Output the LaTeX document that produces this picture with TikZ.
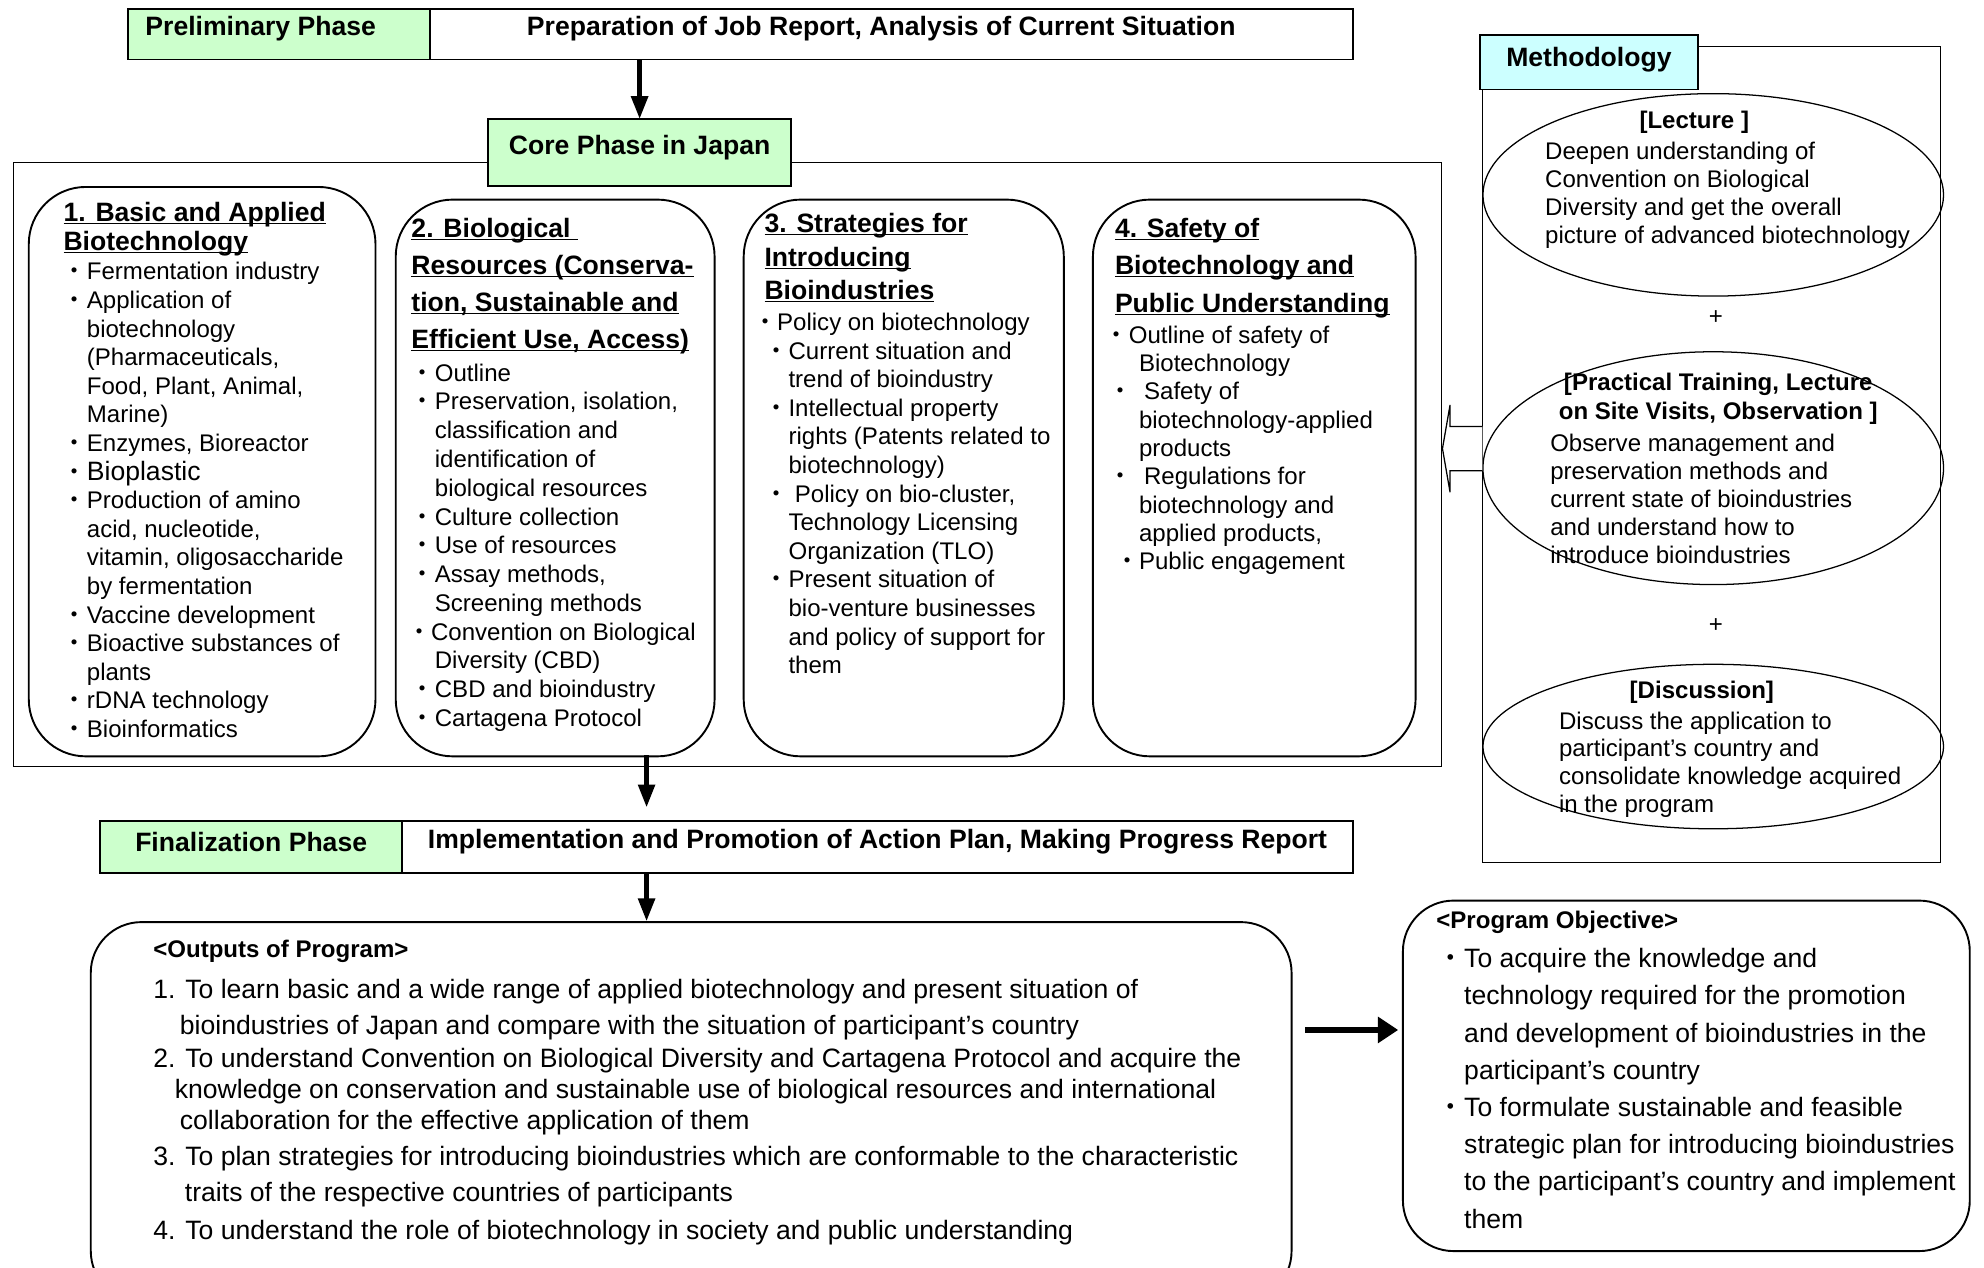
\documentclass[tikz,border=0pt]{standalone}
\usepackage{fontspec}
\setmainfont{Liberation Sans}
\newfontfamily\cjk{Noto Sans CJK JP}
\usetikzlibrary{shapes.geometric, arrows.meta, positioning}
\definecolor{phasegreen}{RGB}{204,255,204}
\definecolor{methcyan}{RGB}{204,255,255}
\tikzstyle{phaselbl} = [rectangle, draw=black, line width=1.5pt, fill=phasegreen, minimum height=40pt, inner sep=0pt, outer sep=0pt, font=\fontsize{21}{23}\selectfont\bfseries]
\tikzstyle{phasetxt} = [rectangle, draw=black, line width=1.5pt, fill=white, minimum height=40pt, inner sep=0pt, outer sep=0pt, font=\fontsize{21}{23}\selectfont\bfseries]
\tikzstyle{methlbl} = [rectangle, draw=black, line width=1.5pt, fill=methcyan, inner sep=0pt, font=\fontsize{21}{23}\selectfont\bfseries]
\tikzstyle{frame} = [rectangle, draw=black, line width=1pt, anchor=north west, inner sep=0pt]
\tikzstyle{topic} = [rectangle, draw=black, line width=1.5pt, rounded corners=45pt, anchor=north west, inner sep=0pt]
\tikzstyle{method} = [ellipse, draw=black, line width=1pt, inner sep=0pt, minimum width=364pt]
\tikzstyle{heading} = [anchor=north west, inner sep=0pt, align=left]
\tikzstyle{body} = [anchor=north west, inner sep=0pt, align=left]
\tikzstyle{arrow} = [line width=3.5pt, -{Triangle[length=18pt,width=13pt]}]
\tikzstyle{bigarrow} = [line width=5pt, -{Triangle[length=16pt,width=20pt]}]
\newcommand{\bul}{\makebox[1em][c]{\cjk ・}}
\newcommand{\contind}{\hspace*{1em}}
\newcommand{\ulhead}[1]{\underline{\raisebox{0pt}[\height][0pt]{#1}}}
\newcommand{\lifted}[1]{\raisebox{4pt}[\height][\depth]{#1}}

\begin{document}
\begin{tikzpicture}[x=1pt, y=-1pt]
        \useasboundingbox (0,0) rectangle (1568,1002);
        \clip (0,0) rectangle (1568,1002);

        % preliminary phase
        \node[phaselbl, minimum width=239pt, anchor=north west] (prelim) at (101,7) {\hspace*{-29pt}\lifted{Preliminary Phase}};
        \node[phasetxt, minimum width=729pt, right=0pt of prelim] (prep) {\hspace*{-16pt}\lifted{Preparation of Job Report, Analysis of Current Situation}};

        % core phase with its four topics
        \node[frame, minimum width=1129pt, minimum height=477pt] (core) at (10,128) {};
        \node[phaselbl, minimum width=239pt, minimum height=53pt, anchor=north west] (corelbl) at (386,94) {\lifted{Core Phase in Japan}};
        \draw[arrow] (corelbl.north |- prelim.south) -- (corelbl.north);

        \node[topic, minimum width=274pt, minimum height=450pt] (t1) at (22,147) {};
        \node[topic, minimum width=252pt, minimum height=440pt] (t2) at (312,157) {};
        \node[topic, minimum width=253pt, minimum height=440pt] (t3) at (587,157) {};
        \node[topic, minimum width=255pt, minimum height=440pt] (t4) at (863,157) {};

        \node[heading, font=\fontsize{21}{23}\selectfont\bfseries] (h1) at (50,159.4) {\ulhead{1. Basic and Applied}\\\ulhead{Biotechnology}};
        \node[body, font=\fontsize{19}{22.6}\selectfont] (b1) at (49.5,207.2) {\bul Fermentation industry\\\bul Application of\\\contind biotechnology\\\contind (Pharmaceuticals,\\\contind Food, Plant, Animal,\\\contind Marine)\\\bul Enzymes, Bioreactor\\\bul {\fontsize{21}{23}\selectfont Bioplastic}\\\bul Production of amino\\\contind acid, nucleotide,\\\contind vitamin, oligosaccharide\\\contind by fermentation\\\bul Vaccine development\\\bul Bioactive substances of\\\contind plants\\\bul rDNA technology\\\bul Bioinformatics};

        \node[heading, font=\fontsize{21}{29.3}\selectfont\bfseries] (h2) at (325,172.4) {\ulhead{2. Biological\ }\\\ulhead{Resources (Conserva-}\\\ulhead{tion, Sustainable and}\\\ulhead{Efficient Use, Access)}};
        \node[body, font=\fontsize{19}{22.75}\selectfont] (b2) at (324.5,287.2) {\bul Outline\\\bul Preservation, isolation,\\\contind classification and\\\contind identification of\\\contind biological resources\\\bul Culture collection\\\bul Use of resources\\\bul Assay methods,\\\contind Screening methods\\\hspace*{-3pt}\bul Convention on Biological\\\contind Diversity (CBD)\\\bul CBD and bioindustry\\\bul Cartagena Protocol};

        \node[heading, font=\fontsize{21}{26.5}\selectfont\bfseries] (h3) at (604,168.4) {\ulhead{3. Strategies for}\\\ulhead{Introducing}\\\ulhead{Bioindustries}};
        \node[body, font=\fontsize{19}{22.6}\selectfont] (b3) at (604,247.2) {\hspace*{-9pt}\bul Policy on biotechnology\\\bul Current situation and\\\contind trend of bioindustry\\\bul Intellectual property\\\contind rights (Patents related to\\\contind biotechnology)\\\bul\hspace*{5pt}Policy on bio-cluster,\\\contind Technology Licensing\\\contind Organization (TLO)\\\bul Present situation of\\\contind bio-venture businesses\\\contind and policy of support for\\\contind them};

        \node[heading, font=\fontsize{21}{29.5}\selectfont\bfseries] (h4) at (881,172.4) {\ulhead{4. Safety of}\\\ulhead{Biotechnology and}\\\ulhead{Public Understanding}};
        \node[body, font=\fontsize{19}{22.4}\selectfont] (b4) at (881,257.2) {\hspace*{-8pt}\bul Outline of safety of\\\contind Biotechnology\\\hspace*{-5pt}\bul\hspace*{9pt}Safety of\\\contind biotechnology-applied\\\contind products\\\hspace*{-5pt}\bul\hspace*{9pt}Regulations for\\\contind biotechnology and\\\contind applied products,\\\bul Public engagement};

        % methodology
        \node[frame, minimum width=362pt, minimum height=645pt] (meth) at (1171,36) {};
        \node[methlbl, minimum width=172pt, minimum height=43pt, anchor=north west] (methlbl) at (1169,27) {\raisebox{2pt}[\height][\depth]{Methodology}};
        \node[method, minimum height=160pt] (lect) at (1354,154) {};
        \node[method, minimum height=184pt] (prac) at (1354,370) {};
        \node[method, minimum height=130pt] (disc) at (1354,590) {};
        \node[font=\fontsize{19}{22}\selectfont] (plus1) at (1356,251) {+};
        \node[font=\fontsize{19}{22}\selectfont] (plus2) at (1356,494) {+};

        \node[inner sep=0pt, font=\fontsize{19}{22}\selectfont\bfseries] (lecttitle) at (1339,97) {[Lecture ]};
        \node[body, font=\fontsize{19}{22}\selectfont] (lecttext) at (1221,112.2) {Deepen understanding of\\Convention on Biological\\Diversity and get the overall\\picture of advanced biotechnology};
        \node[inner sep=0pt, align=center, font=\fontsize{19}{23}\selectfont\bfseries] (practitle) at (1358,315.5) {[Practical Training, Lecture\\on Site Visits, Observation ]};
        \node[body, font=\fontsize{19}{22}\selectfont] (practext) at (1225,343.2) {Observe management and\\preservation methods and\\current state of bioindustries\\and understand how to\\introduce bioindustries};
        \node[inner sep=0pt, font=\fontsize{19}{22}\selectfont\bfseries] (disctitle) at (1345,547) {[Discussion]};
        \node[body, font=\fontsize{19}{22}\selectfont] (disctext) at (1232,562.2) {Discuss the application to\\participant’s country and\\consolidate knowledge acquired\\in the program};

        % hollow arrow back into the core phase
        \draw[line width=1pt, fill=white] (prac.west |- 0,337) -- (1146,337) -- (1146,320) -- (core.east |- 0,354.5) -- (1146,389) -- (1146,372) -- (prac.west |- 0,372);

        % finalization phase
        \coordinate (cdown) at (511,597);
        \node[phaselbl, minimum width=239pt, minimum height=41pt, anchor=north west] (finlbl) at (79,649) {\lifted{Finalization Phase}};
        \node[phasetxt, minimum width=751pt, minimum height=41pt, right=0pt of finlbl] (impl) {\lifted{Implementation and Promotion of Action Plan, Making Progress Report}};
        \draw[arrow, shorten >=11pt] (cdown) -- (cdown |- finlbl.north);

        % outputs and objective
        \node[topic, rounded corners=40pt, minimum width=949pt, minimum height=300pt] (outputs) at (71,728) {};
        \draw[arrow] (cdown |- impl.south) -- (cdown |- outputs.north);
        \node[anchor=west, inner sep=0pt, font=\fontsize{19}{22}\selectfont\bfseries] (outtitle) at (121,752) {<Outputs of Program>};
        \node[body, font=\fontsize{21}{24}\selectfont] (outtext) at (121,773.4) {1. To learn basic and a wide range of applied biotechnology and present situation of\\[5pt]\hspace*{21pt}bioindustries of Japan and compare with the situation of participant’s country\\[2pt]2. To understand Convention on Biological Diversity and Cartagena Protocol and acquire the\\\hspace*{17pt}knowledge on conservation and sustainable use of biological resources and international\\[1pt]\hspace*{21pt}collaboration for the effective application of them\\[4pt]3. To plan strategies for introducing bioindustries which are conformable to the characteristic\\[5pt]\hspace*{25pt}traits of the respective countries of participants\\[6pt]4. To understand the role of biotechnology in society and public understanding};

        \node[topic, rounded corners=40pt, minimum width=448pt, minimum height=277pt] (objective) at (1108,711) {};
        \draw[bigarrow, shorten <=10pt, shorten >=3pt] (outputs.east |- 0,814) -- (objective.west |- 0,814);
        \node[anchor=west, inner sep=0pt, font=\fontsize{19}{22}\selectfont\bfseries] (objtitle) at (1135,729) {<Program Objective>};
        \node[body, font=\fontsize{21}{29.4}\selectfont] (objtext) at (1136,749.4) {\bul To acquire the knowledge and\\\contind technology required for the promotion\\\contind and development of bioindustries in the\\\contind participant’s country\\\bul To formulate sustainable and feasible\\\contind strategic plan for introducing bioindustries\\\contind to the participant’s country and implement\\\contind them};
    \end{tikzpicture}
\end{document}
